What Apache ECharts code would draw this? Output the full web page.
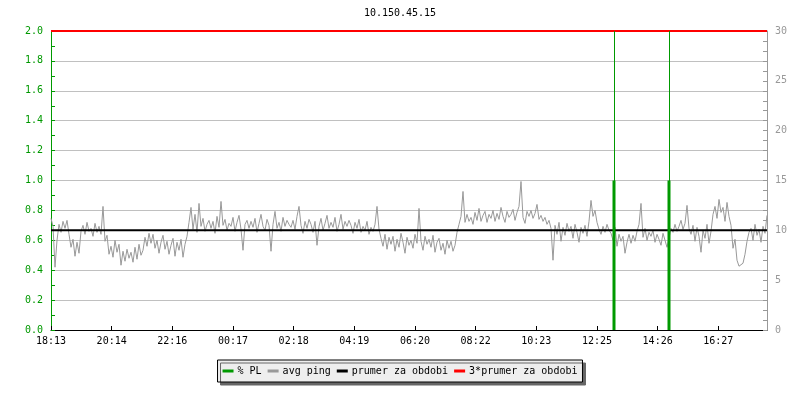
<!DOCTYPE html>
<html>
<head>
<meta charset="utf-8">
<script src="https://cdn.jsdelivr.net/npm/echarts@6/dist/echarts.min.js"></script>
<style>html,body{margin:0;padding:0;background:#fff}#c{width:800px;height:400px}</style>
</head>
<body>
<div id="c"></div>
<script>
// time axis: minutes since 18:13, one sample every 4 minutes
var titleText = '10.150.45.15';
var tickLabels = ['18:13','20:14','22:16','00:17','02:18','04:19','06:20','08:22','10:23','12:25','14:26','16:27'];
var tickStep = 121.33;      // minutes between labelled ticks
var spanMinutes = 1432;     // whole period shown
var sampleStep = 4;         // minutes between avg ping samples

// avg ping [ms] (right axis)
var avgPing = [
 11.2,10.4,6.3,9.0,10.6,9.8,10.9,10.2,11.0,9.6,
 8.3,9.1,7.4,8.8,7.7,9.9,10.5,9.6,10.8,9.9,
 10.2,9.4,10.7,9.8,10.4,9.6,12.4,8.9,9.5,7.6,
 8.4,7.3,9.0,7.8,8.6,6.5,7.9,6.9,8.1,7.2,
 7.8,6.8,8.3,7.1,8.6,7.5,8.0,9.3,8.4,9.7,
 8.7,9.6,8.2,9.0,7.7,8.8,9.5,8.1,8.9,7.6,
 8.5,9.2,7.4,8.8,8.0,9.1,7.3,8.6,9.4,10.8,
 12.3,10.1,11.6,9.8,12.7,10.4,11.2,9.9,10.6,11.0,
 10.2,10.9,9.7,11.4,10.3,12.9,10.5,11.1,10.0,10.7,
 10.4,11.3,9.9,10.8,11.5,10.1,8.0,10.6,11.0,10.2,
 10.9,10.3,11.2,9.8,10.7,11.6,10.4,10.0,11.1,10.5,
 7.9,10.6,11.9,10.2,10.8,9.9,11.3,10.4,11.0,10.6,
 10.3,11.0,10.1,11.4,12.4,10.5,9.7,10.9,10.2,11.1,
 10.6,9.8,10.9,8.5,10.4,11.2,10.0,10.7,11.5,10.2,
 10.8,10.3,11.3,9.9,10.6,11.6,10.1,10.9,10.4,11.0,
 10.5,9.7,10.8,10.2,11.1,9.8,10.4,10.0,10.9,9.6,
 10.3,9.9,10.6,12.4,10.1,9.2,8.4,9.6,8.1,9.3,
 8.6,9.4,7.9,9.1,8.3,9.7,8.8,7.7,9.3,8.5,
 9.0,8.2,9.6,8.7,12.2,8.9,8.0,9.4,8.6,9.1,
 8.3,9.5,7.8,8.8,9.2,8.0,8.7,7.6,9.0,8.2,
 8.9,7.9,8.5,9.8,10.6,11.4,13.9,10.8,11.6,10.9,
 11.3,10.6,11.8,11.0,12.2,10.9,11.5,11.9,10.8,11.6,
 11.2,12.0,10.9,11.7,11.1,12.3,11.4,10.8,11.9,11.3,
 11.6,12.1,11.0,11.8,12.4,14.9,11.3,10.7,11.9,11.4,
 12.0,11.2,11.7,12.6,11.1,11.5,10.9,11.3,10.6,11.0,
 10.2,7.0,10.5,9.6,10.8,8.9,10.3,9.5,10.7,9.9,
 10.4,9.2,10.6,9.8,8.8,10.3,9.7,10.5,9.4,10.9,
 13.0,11.4,12.0,10.8,10.1,9.6,10.4,9.8,10.6,10.0,
 9.7,9.0,10.3,8.4,9.6,8.9,9.4,7.7,8.8,9.6,
 8.7,9.5,8.9,9.9,10.6,12.7,9.3,10.2,9.0,9.8,
 9.4,10.0,8.8,9.6,9.1,8.5,9.7,9.0,8.3,9.2,
 10.2,9.8,10.6,9.9,10.4,11.0,10.1,10.7,12.5,10.2,
 9.6,10.5,8.9,10.3,9.4,7.8,10.0,9.2,10.6,8.7,
 9.9,11.6,12.4,11.2,13.1,11.8,12.3,10.9,12.8,11.4,
 10.5,8.2,9.1,7.0,6.4,6.2,6.7,7.6,8.9,9.8,
 10.2,9.0,10.6,9.5,10.1,8.8,10.4,9.7,11.5
];
// packet loss [%] (left axis)
var plMinutes = [1126, 1236];
var plValues = [1.0, 1.0];
var meanPing = 10;          // prumer za obdobi [ms]
var triMeanPing = 3 * meanPing;

var green = '#009900', gray = '#999999';
var font = 'DejaVu Sans Mono';

var pingData = avgPing.map(function (v, i) { return [i * sampleStep, v]; });
var plData = plMinutes.map(function (m, i) { return [m, plValues[i]]; });

var chart = echarts.init(document.getElementById('c'), null, {renderer: 'canvas'});
chart.setOption({
  animation: false,
  backgroundColor: '#ffffff',
  title: {
    text: titleText, left: 'center', top: 3,
    textStyle: {fontFamily: font, fontSize: 10, fontWeight: 'normal', color: '#000'}
  },
  legend: {
    left: 'center', top: 360, icon: 'rect', itemWidth: 11, itemHeight: 3, itemGap: 6,
    padding: [6, 5], backgroundColor: '#eeeeee', borderColor: '#000', borderWidth: 1,
    shadowColor: '#666666', shadowBlur: 0, shadowOffsetX: 3, shadowOffsetY: 3,
    textStyle: {fontFamily: font, fontSize: 10, color: '#000', padding: [0, 0, 0, -1]},
    data: ['% PL', 'avg ping', 'prumer za obdobi', '3*prumer za obdobi']
  },
  grid: {left: 51, right: 33, top: 31, bottom: 70},
  xAxis: {
    type: 'value', min: 0, max: spanMinutes, interval: tickStep,
    axisLine: {lineStyle: {color: '#000', width: 1}},
    axisTick: {inside: true, length: 4, lineStyle: {color: '#000'}},
    axisLabel: {
      fontFamily: font, fontSize: 10, color: '#000', margin: 6,
      showMaxLabel: false,
      formatter: function (v) {
        var k = Math.round(v / tickStep);
        if (Math.abs(v - k * tickStep) > 0.5) return '';
        return tickLabels[k] || '';
      }
    },
    splitLine: {show: false}
  },
  yAxis: [{
    type: 'value', min: 0, max: 2, interval: 0.2, position: 'left',
    axisLine: {show: true, lineStyle: {color: green}},
    axisTick: {show: true, inside: true, length: 4, lineStyle: {color: green}},
    minorTick: {show: true, splitNumber: 2, length: 4, lineStyle: {color: green}},
    axisLabel: {fontFamily: font, fontSize: 10, color: green, margin: 8,
      formatter: function (v) { return v.toFixed(1); }},
    splitLine: {show: true, lineStyle: {color: '#c0c0c0', width: 1}}
  }, {
    type: 'value', min: 0, max: 30, interval: 5, position: 'right',
    axisLine: {show: true, lineStyle: {color: gray}},
    axisTick: {show: true, inside: true, length: 4, lineStyle: {color: gray}},
    minorTick: {show: true, splitNumber: 5, length: 4, lineStyle: {color: gray}},
    axisLabel: {fontFamily: font, fontSize: 10, color: gray, margin: 8},
    splitLine: {show: false}
  }],
  series: [{
    name: '% PL', type: 'bar', yAxisIndex: 0, barWidth: 3, z: 5,
    itemStyle: {color: green}, data: plData,
    markLine: {
      silent: true, symbol: 'none', label: {show: false},
      lineStyle: {color: green, width: 1, type: 'solid'},
      data: plMinutes.map(function (m) { return {xAxis: m}; })
    }
  }, {
    name: 'avg ping', type: 'line', yAxisIndex: 1, showSymbol: false, z: 2,
    lineStyle: {color: gray, width: 1}, itemStyle: {color: gray}, data: pingData
  }, {
    name: 'prumer za obdobi', type: 'line', yAxisIndex: 1, showSymbol: false, z: 3,
    lineStyle: {color: '#000', width: 2}, itemStyle: {color: '#000'},
    data: [[0, meanPing], [spanMinutes, meanPing]]
  }, {
    name: '3*prumer za obdobi', type: 'line', yAxisIndex: 1, showSymbol: false, z: 3,
    lineStyle: {color: '#ff0000', width: 2}, itemStyle: {color: '#ff0000'},
    data: [[0, triMeanPing], [spanMinutes, triMeanPing]]
  }]
});
</script>
</body>
</html>
